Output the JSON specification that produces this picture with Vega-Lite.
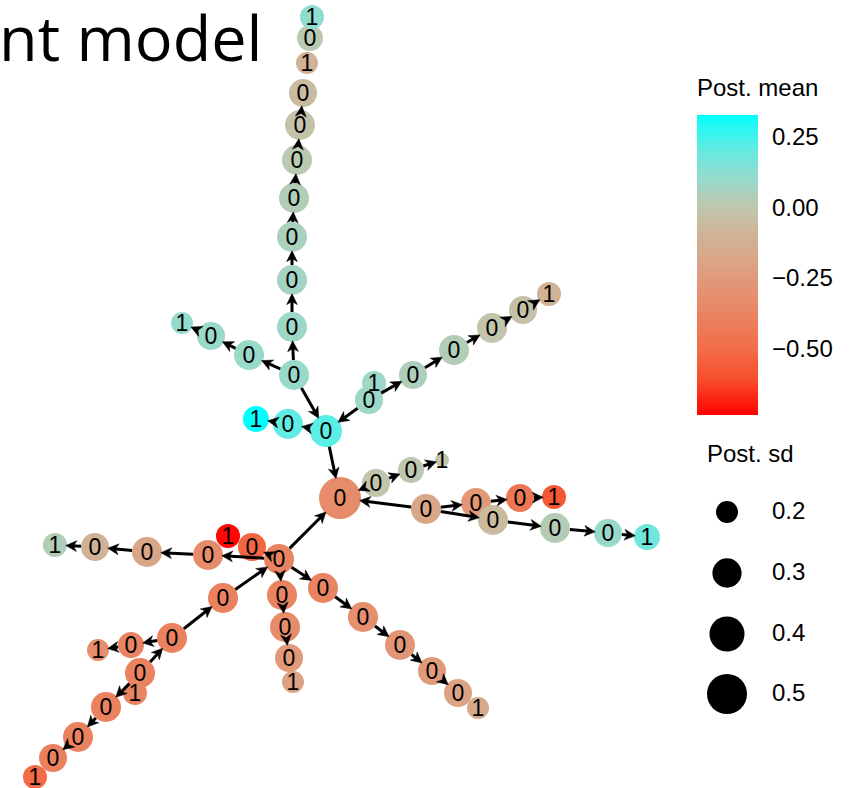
{
  "$schema": "https://vega.github.io/schema/vega-lite/v6.json",
  "width": 849,
  "height": 788,
  "autosize": {"type": "none"},
  "padding": 0,
  "background": "white",
  "datasets": {
    "nodes": [
      {"id": "N2", "x": 310, "y": 38, "mean": 0.02, "sd": 0.252, "label": "0"},
      {"id": "N1", "x": 312, "y": 17, "mean": 0.12, "sd": 0.225, "label": "1"},
      {"id": "N3", "x": 307, "y": 63, "mean": -0.1, "sd": 0.2, "label": "1"},
      {"id": "N4", "x": 303, "y": 93, "mean": -0.05, "sd": 0.281, "label": "0"},
      {"id": "N5", "x": 300, "y": 125, "mean": -0.01, "sd": 0.312, "label": "0"},
      {"id": "N6", "x": 297, "y": 160, "mean": 0.02, "sd": 0.312, "label": "0"},
      {"id": "N7", "x": 294, "y": 198, "mean": 0.04, "sd": 0.312, "label": "0"},
      {"id": "N8", "x": 292, "y": 237, "mean": 0.06, "sd": 0.312, "label": "0"},
      {"id": "N9", "x": 292, "y": 280, "mean": 0.07, "sd": 0.312, "label": "0"},
      {"id": "N10", "x": 292, "y": 327, "mean": 0.09, "sd": 0.312, "label": "0"},
      {"id": "N11", "x": 294, "y": 375, "mean": 0.1, "sd": 0.312, "label": "0"},
      {"id": "A1", "x": 249, "y": 355, "mean": 0.1, "sd": 0.312, "label": "0"},
      {"id": "A2", "x": 211, "y": 336, "mean": 0.1, "sd": 0.281, "label": "0"},
      {"id": "A3", "x": 182, "y": 323, "mean": 0.11, "sd": 0.2, "label": "1"},
      {"id": "X1", "x": 374, "y": 383, "mean": 0.09, "sd": 0.225, "label": "1"},
      {"id": "E0", "x": 369, "y": 400, "mean": 0.09, "sd": 0.281, "label": "0"},
      {"id": "E1", "x": 413, "y": 375, "mean": 0.05, "sd": 0.281, "label": "0"},
      {"id": "E2", "x": 454, "y": 350, "mean": 0.04, "sd": 0.312, "label": "0"},
      {"id": "E3", "x": 492, "y": 328, "mean": 0.0, "sd": 0.312, "label": "0"},
      {"id": "E4", "x": 523, "y": 310, "mean": -0.02, "sd": 0.281, "label": "0"},
      {"id": "E5", "x": 549, "y": 294, "mean": -0.1, "sd": 0.225, "label": "1"},
      {"id": "D2", "x": 256, "y": 419, "mean": 0.33, "sd": 0.252, "label": "1"},
      {"id": "D1", "x": 288, "y": 424, "mean": 0.22, "sd": 0.312, "label": "0"},
      {"id": "C", "x": 326, "y": 431, "mean": 0.23, "sd": 0.345, "label": "0"},
      {"id": "M", "x": 340, "y": 498, "mean": -0.33, "sd": 0.544, "label": "0"},
      {"id": "F1", "x": 376, "y": 483, "mean": 0.0, "sd": 0.281, "label": "0"},
      {"id": "F2", "x": 411, "y": 470, "mean": 0.01, "sd": 0.252, "label": "0"},
      {"id": "F3", "x": 442, "y": 460, "mean": 0.0, "sd": 0.123, "label": "1"},
      {"id": "G1", "x": 426, "y": 509, "mean": -0.17, "sd": 0.312, "label": "0"},
      {"id": "G2", "x": 476, "y": 503, "mean": -0.27, "sd": 0.312, "label": "0"},
      {"id": "G3", "x": 520, "y": 498, "mean": -0.44, "sd": 0.281, "label": "0"},
      {"id": "G4", "x": 554, "y": 497, "mean": -0.57, "sd": 0.225, "label": "1"},
      {"id": "H1", "x": 493, "y": 520, "mean": -0.06, "sd": 0.312, "label": "0"},
      {"id": "H2", "x": 555, "y": 528, "mean": 0.03, "sd": 0.312, "label": "0"},
      {"id": "H3", "x": 608, "y": 533, "mean": 0.1, "sd": 0.281, "label": "0"},
      {"id": "H4", "x": 647, "y": 537, "mean": 0.18, "sd": 0.252, "label": "1"},
      {"id": "R0", "x": 228, "y": 536, "mean": -0.72, "sd": 0.225, "label": "1"},
      {"id": "L1", "x": 252, "y": 547, "mean": -0.52, "sd": 0.281, "label": "0"},
      {"id": "P1", "x": 208, "y": 555, "mean": -0.33, "sd": 0.312, "label": "0"},
      {"id": "P2", "x": 147, "y": 552, "mean": -0.18, "sd": 0.312, "label": "0"},
      {"id": "P3", "x": 95, "y": 547, "mean": -0.1, "sd": 0.281, "label": "0"},
      {"id": "P4", "x": 55, "y": 545, "mean": 0.04, "sd": 0.225, "label": "1"},
      {"id": "K", "x": 279, "y": 559, "mean": -0.37, "sd": 0.312, "label": "0"},
      {"id": "Q1", "x": 282, "y": 595, "mean": -0.37, "sd": 0.312, "label": "0"},
      {"id": "Q2", "x": 285, "y": 627, "mean": -0.33, "sd": 0.312, "label": "0"},
      {"id": "Q3", "x": 289, "y": 658, "mean": -0.26, "sd": 0.281, "label": "0"},
      {"id": "Q4", "x": 293, "y": 682, "mean": -0.2, "sd": 0.2, "label": "1"},
      {"id": "R1", "x": 323, "y": 588, "mean": -0.37, "sd": 0.312, "label": "0"},
      {"id": "R2", "x": 363, "y": 617, "mean": -0.31, "sd": 0.312, "label": "0"},
      {"id": "R3", "x": 400, "y": 645, "mean": -0.28, "sd": 0.312, "label": "0"},
      {"id": "R4", "x": 432, "y": 671, "mean": -0.25, "sd": 0.281, "label": "0"},
      {"id": "R5", "x": 458, "y": 693, "mean": -0.2, "sd": 0.281, "label": "0"},
      {"id": "R6", "x": 478, "y": 708, "mean": -0.16, "sd": 0.2, "label": "1"},
      {"id": "S1", "x": 223, "y": 598, "mean": -0.38, "sd": 0.312, "label": "0"},
      {"id": "S2", "x": 172, "y": 638, "mean": -0.38, "sd": 0.312, "label": "0"},
      {"id": "T1", "x": 131, "y": 645, "mean": -0.37, "sd": 0.252, "label": "0"},
      {"id": "T2", "x": 98, "y": 650, "mean": -0.32, "sd": 0.2, "label": "1"},
      {"id": "S3", "x": 140, "y": 673, "mean": -0.38, "sd": 0.312, "label": "0"},
      {"id": "X2", "x": 135, "y": 693, "mean": -0.37, "sd": 0.225, "label": "1"},
      {"id": "S4", "x": 106, "y": 707, "mean": -0.38, "sd": 0.312, "label": "0"},
      {"id": "S5", "x": 78, "y": 737, "mean": -0.38, "sd": 0.312, "label": "0"},
      {"id": "S6", "x": 53, "y": 758, "mean": -0.39, "sd": 0.281, "label": "0"},
      {"id": "S7", "x": 35, "y": 777, "mean": -0.5, "sd": 0.225, "label": "1"}
    ],
    "edges": [
      {"from": "N11", "to": "N10"}, {"from": "N10", "to": "N9"}, {"from": "N9", "to": "N8"},
      {"from": "N8", "to": "N7"}, {"from": "N7", "to": "N6"}, {"from": "N6", "to": "N5"},
      {"from": "N5", "to": "N4"},
      {"from": "N11", "to": "A1"}, {"from": "A1", "to": "A2"}, {"from": "A2", "to": "A3"},
      {"from": "N11", "to": "C"}, {"from": "C", "to": "D1"}, {"from": "D1", "to": "D2"},
      {"from": "E0", "to": "C"}, {"from": "E0", "to": "E1"}, {"from": "E1", "to": "E2"},
      {"from": "E2", "to": "E3"}, {"from": "E3", "to": "E4"}, {"from": "E4", "to": "E5"},
      {"from": "C", "to": "M"},
      {"from": "F1", "to": "M"}, {"from": "F1", "to": "F2"}, {"from": "F2", "to": "F3"},
      {"from": "G1", "to": "M"}, {"from": "G1", "to": "G2"}, {"from": "G2", "to": "G3"},
      {"from": "G3", "to": "G4"}, {"from": "G1", "to": "H1"}, {"from": "H1", "to": "H2"},
      {"from": "H2", "to": "H3"}, {"from": "H3", "to": "H4"},
      {"from": "K", "to": "M"}, {"from": "K", "to": "L1"}, {"from": "K", "to": "P1"},
      {"from": "P1", "to": "P2"}, {"from": "P2", "to": "P3"}, {"from": "P3", "to": "P4"},
      {"from": "K", "to": "Q1"}, {"from": "Q1", "to": "Q2"}, {"from": "Q2", "to": "Q3"},
      {"from": "K", "to": "R1"}, {"from": "R1", "to": "R2"}, {"from": "R2", "to": "R3"},
      {"from": "R3", "to": "R4"}, {"from": "R4", "to": "R5"},
      {"from": "S1", "to": "K"}, {"from": "S2", "to": "S1"}, {"from": "S2", "to": "T1"},
      {"from": "T1", "to": "T2"}, {"from": "S3", "to": "S2"}, {"from": "S3", "to": "S4"},
      {"from": "S4", "to": "S5"}, {"from": "S5", "to": "S6"}
    ]
  },
  "layer": [
    {
      "data": {"values": [{"heading": "nt model"}]},
      "mark": {"type": "text", "font": "Open Sans", "fontSize": 63, "fontWeight": "normal", "color": "black", "align": "left", "baseline": "alphabetic"},
      "encoding": {
        "x": {"datum": -1, "type": "quantitative", "axis": null, "scale": {"domain": [0, 849], "nice": false, "zero": false}},
        "y": {"datum": 61, "type": "quantitative", "axis": null, "scale": {"domain": [0, 788], "nice": false, "zero": false, "reverse": true}},
        "text": {"field": "heading"}
      }
    },
    {
      "data": {"name": "nodes"},
      "mark": {"type": "point", "shape": "circle", "filled": true, "opacity": 1, "strokeWidth": 0},
      "encoding": {
        "x": {"field": "x", "type": "quantitative"},
        "y": {"field": "y", "type": "quantitative"},
        "color": {
          "field": "mean", "type": "quantitative",
          "scale": {
            "domain": [-0.731, -0.62, -0.5, -0.25, -0.12, 0, 0.12, 0.25, 0.331],
            "range": ["#ff0000", "#f84a28", "#f36b47", "#e09b7b", "#d3ae90", "#c2c5ac", "#8fddd0", "#4ff1ea", "#00ffff"],
            "interpolate": "rgb"
          },
          "legend": {
            "title": "Post. mean", "orient": "none", "legendX": 697, "legendY": 77,
            "direction": "vertical", "gradientLength": 300, "gradientThickness": 61,
            "values": [0.25, 0, -0.25, -0.5], "format": ".2f", "labelOffset": 14,
            "titlePadding": 14, "labelOverlap": false, "gradientStrokeWidth": 0
          }
        },
        "size": {
          "field": "sd", "type": "quantitative",
          "scale": {"domain": [0.2, 0.5], "range": [484, 1600], "zero": false, "clamp": false},
          "legend": {
            "title": "Post. sd", "orient": "none", "legendX": 707, "legendY": 443,
            "values": [0.2, 0.3, 0.4, 0.5], "format": ".1f", "symbolType": "circle",
            "symbolFillColor": "black", "symbolStrokeWidth": 0, "symbolOpacity": 1,
            "labelOffset": 25, "rowPadding": 18, "titlePadding": 33, "gridAlign": "all"
          }
        }
      }
    },
    {
      "data": {"name": "edges"},
      "transform": [
        {"lookup": "from", "from": {"data": {"name": "nodes"}, "key": "id", "fields": ["x", "y", "sd"]}, "as": ["x1", "y1", "sd1"]},
        {"lookup": "to", "from": {"data": {"name": "nodes"}, "key": "id", "fields": ["x", "y", "sd"]}, "as": ["x2", "y2", "sd2"]},
        {"calculate": "sqrt((datum.x2 - datum.x1) * (datum.x2 - datum.x1) + (datum.y2 - datum.y1) * (datum.y2 - datum.y1))", "as": "len"},
        {"calculate": "(datum.x2 - datum.x1) / datum.len", "as": "ux"},
        {"calculate": "(datum.y2 - datum.y1) / datum.len", "as": "uy"},
        {"calculate": "sqrt(484 + (datum.sd1 - 0.2) * 3720) / 2", "as": "r1"},
        {"calculate": "sqrt(484 + (datum.sd2 - 0.2) * 3720) / 2", "as": "r2"},
        {"calculate": "datum.x1 + datum.ux * datum.r1", "as": "sx"},
        {"calculate": "datum.y1 + datum.uy * datum.r1", "as": "sy"},
        {"calculate": "datum.x2 - datum.ux * (datum.r2 + 4.5)", "as": "ax"},
        {"calculate": "datum.y2 - datum.uy * (datum.r2 + 4.5)", "as": "ay"},
        {"calculate": "atan2(datum.ux, -datum.uy) * 180 / PI", "as": "ang"}
      ],
      "layer": [
        {
          "transform": [{"filter": "datum.len - datum.r1 - datum.r2 - 4.5 > 1"}],
          "mark": {"type": "rule", "color": "black", "strokeWidth": 3},
          "encoding": {
            "x": {"field": "sx", "type": "quantitative"},
            "y": {"field": "sy", "type": "quantitative"},
            "x2": {"field": "ax"},
            "y2": {"field": "ay"}
          }
        },
        {
          "mark": {"type": "point", "shape": "M0,-1L0.95,0.9L0,0.35L-0.95,0.9Z", "filled": true, "color": "black", "opacity": 1, "strokeWidth": 0.5, "stroke": "black"},
          "encoding": {
            "x": {"field": "ax", "type": "quantitative"},
            "y": {"field": "ay", "type": "quantitative"},
            "angle": {"field": "ang", "type": "quantitative", "scale": null},
            "size": {"value": 130}
          }
        }
      ]
    },
    {
      "data": {"name": "nodes"},
      "mark": {"type": "text", "font": "Liberation Sans", "fontSize": 23, "color": "black", "align": "center", "baseline": "middle", "dy": 1},
      "encoding": {
        "x": {"field": "x", "type": "quantitative"},
        "y": {"field": "y", "type": "quantitative"},
        "text": {"field": "label"}
      }
    }
  ],
  "config": {
    "view": {"stroke": null},
    "legend": {
      "titleFont": "Liberation Sans", "titleFontSize": 24, "titleFontWeight": "normal", "titleColor": "black",
      "labelFont": "Liberation Sans", "labelFontSize": 24, "labelColor": "black"
    }
  }
}
